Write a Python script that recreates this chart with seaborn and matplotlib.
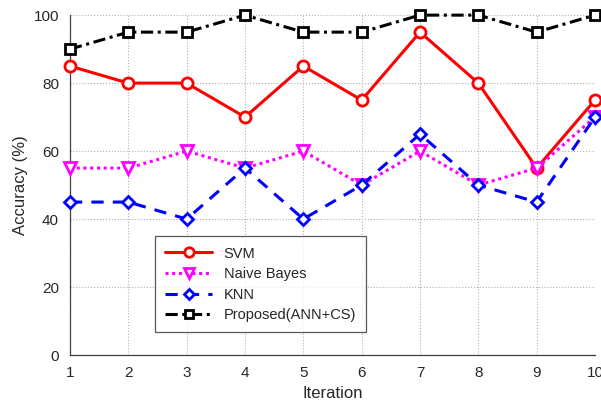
import matplotlib
matplotlib.use("Agg")
import matplotlib.pyplot as plt
import seaborn as sns
import pandas as pd

iterations = [1, 2, 3, 4, 5, 6, 7, 8, 9, 10]
svm = [85, 80, 80, 70, 85, 75, 95, 80, 55, 75]
naive_bayes = [55, 55, 60, 55, 60, 50, 60, 50, 55, 70]
knn = [45, 45, 40, 55, 40, 50, 65, 50, 45, 70]
proposed = [90, 95, 95, 100, 95, 95, 100, 100, 95, 100]
y_ticks = [0, 20, 40, 60, 80, 100]

sns.set_style("white")
plt.rcParams['font.family'] = ['Liberation Sans', 'DejaVu Sans']

fig = plt.figure(figsize=(6.01, 4.09), dpi=100)
ax = fig.add_axes([0.1165, 0.132, 0.8735, 0.831])

series = [
    ("SVM", svm, "red", "-", "o", 8),
    ("Naive Bayes", naive_bayes, "magenta", (0, (1, 1.2)), "v", 8),
    ("KNN", knn, "blue", (0, (4, 3)), "D", 6.5),
    ("Proposed(ANN+CS)", proposed, "black", (0, (4, 1.5, 1, 1.5)), "s", 6.5),
]
for name, vals, col, ls, mk, ms in series:
    df = pd.DataFrame({"Iteration": iterations, "Accuracy": vals})
    sns.lineplot(data=df, x="Iteration", y="Accuracy", ax=ax, color=col,
                 linestyle=ls, linewidth=2.2, marker=mk, markersize=ms,
                 markerfacecolor="white", markeredgecolor=col,
                 markeredgewidth=2, label=name, clip_on=False, zorder=3)

ax.set_xlim(1, 10)
ax.set_ylim(0, 100)
ax.set_xticks(iterations)
ax.set_yticks(y_ticks)
ax.grid(True, linestyle=":", color="#b0b0b0", linewidth=0.8)
for s in ["top", "right"]:
    ax.spines[s].set_visible(False)
for s in ["left", "bottom"]:
    ax.spines[s].set_color("#404040")
    ax.spines[s].set_linewidth(0.9)
ax.tick_params(direction="in", length=4, labelsize=11, colors="#262626", pad=8)
ax.set_xlabel("Iteration", fontsize=12, color="#262626")
ax.set_ylabel("Accuracy (%)", fontsize=12, color="#262626")

leg = ax.legend(loc="lower left", bbox_to_anchor=(0.148, 0.045), fontsize=10.5,
                frameon=True, fancybox=False, handlelength=3.2, markerscale=0.85,
                borderpad=0.7, labelspacing=0.45, edgecolor="#303030")
leg.get_frame().set_linewidth(0.9)

fig.savefig("out.png", dpi=100)
